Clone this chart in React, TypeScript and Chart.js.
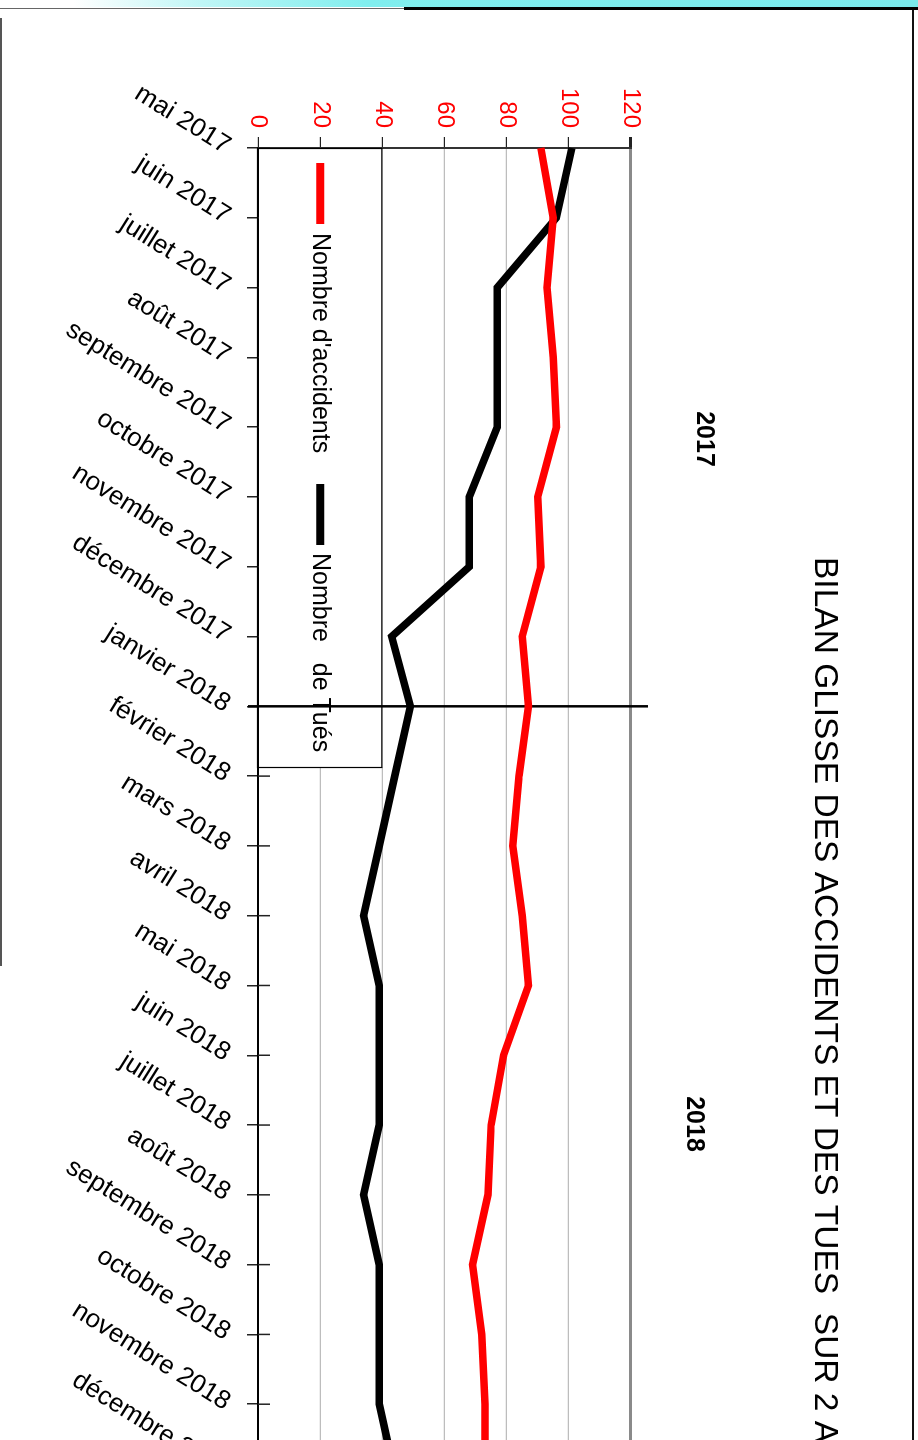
import React, { useEffect, useRef } from 'react';
import { Chart, registerables } from 'chart.js';

Chart.register(...registerables);

const months = [
  'mai 2017', 'juin 2017', 'juillet 2017', 'août 2017', 'septembre 2017', 'octobre 2017',
  'novembre 2017', 'décembre 2017', 'janvier 2018', 'février 2018', 'mars 2018', 'avril 2018',
  'mai 2018', 'juin 2018', 'juillet 2018', 'août 2018', 'septembre 2018', 'octobre 2018',
  'novembre 2018', 'décembre 2018',
];
const accidents = [91, 95, 93, 95, 96, 90, 91, 85, 87, 84, 82, 85, 87, 79, 75, 74, 69, 72, 73, 73];
const tues = [101, 96, 77, 77, 77, 68, 68, 43, 49, 44, 39, 34, 39, 39, 39, 34, 39, 39, 39, 44];
const valueMin = 0;
const valueMax = 120;
const valueStep = 20;
const seriesNames = ["Nombre d'accidents", 'Nombre   de Tués'];
const seriesColors = ['#ff0000', '#000000'];
const yearLabels = ['2017', '2018'];
const titleText = 'BILAN GLISSE DES ACCIDENTS ET DES TUES  SUR 2 ANS';
const splitIndex = 8; // janvier 2018

const FONT = "'Liberation Sans', Arial, Helvetica, sans-serif";
const W = 1540;
const H = 918;

const decorPlugin = {
  id: 'decor',
  beforeDatasetsDraw(chart: any) {
    const { ctx, chartArea: ca, scales } = chart;
    const x = scales.x;
    const y = scales.y;
    ctx.save();
    // inner half of category tick marks
    ctx.strokeStyle = '#222';
    ctx.lineWidth = 1.5;
    months.forEach((_, i) => {
      const px = x.getPixelForValue(i);
      ctx.beginPath();
      ctx.moveTo(px, ca.bottom);
      ctx.lineTo(px, ca.bottom - 12);
      ctx.stroke();
    });
    // legend box
    const boxLeft = ca.left;
    const boxRight = ca.left + 619;
    const boxTop = y.getPixelForValue(40);
    const boxBottom = ca.bottom;
    ctx.fillStyle = '#ffffff';
    ctx.fillRect(boxLeft + 1, boxTop, boxRight - boxLeft - 1, boxBottom - boxTop - 1);
    ctx.strokeStyle = '#000';
    ctx.lineWidth = 1.2;
    ctx.strokeRect(boxLeft + 0.5, boxTop + 0.5, boxRight - boxLeft, boxBottom - boxTop);
    const ly = (boxTop + boxBottom) / 2;
    const items = [
      { seg: 15, text: 85 },
      { seg: 336, text: 405 },
    ];
    items.forEach((it, i) => {
      ctx.strokeStyle = seriesColors[i];
      ctx.lineWidth = 8;
      ctx.beginPath();
      ctx.moveTo(ca.left + it.seg, ly);
      ctx.lineTo(ca.left + it.seg + 61, ly);
      ctx.stroke();
      ctx.fillStyle = '#000';
      ctx.font = `25px ${FONT}`;
      ctx.textAlign = 'left';
      ctx.textBaseline = 'middle';
      ctx.fillText(seriesNames[i], ca.left + it.text, ly);
    });
    // 2017 / 2018 separator
    const sx = x.getPixelForValue(splitIndex);
    ctx.strokeStyle = '#000';
    ctx.lineWidth = 2.5;
    ctx.beginPath();
    ctx.moveTo(sx, ca.bottom + 10);
    ctx.lineTo(sx, ca.top - 17);
    ctx.stroke();
    ctx.restore();
  },
  afterDraw(chart: any) {
    const { ctx, chartArea: ca } = chart;
    ctx.save();
    ctx.fillStyle = '#000';
    ctx.textBaseline = 'middle';
    ctx.textAlign = 'left';
    ctx.font = `33.5px ${FONT}`;
    ctx.fillText(titleText, ca.left + 409, ca.top - 193);
    ctx.textAlign = 'center';
    ctx.font = `bold 25px ${FONT}`;
    ctx.fillText(yearLabels[0], ca.left + 291, ca.top - 73);
    ctx.fillText(yearLabels[1], ca.left + 976, ca.top - 63);
    ctx.restore();
  },
};

export default function App() {
  const ref = useRef<HTMLCanvasElement | null>(null);

  useEffect(() => {
    if (!ref.current) return;
    const chart = new Chart(ref.current, {
      type: 'line',
      data: {
        labels: months,
        datasets: [
          {
            label: seriesNames[0],
            data: accidents,
            borderColor: seriesColors[0],
            backgroundColor: seriesColors[0],
            borderWidth: 7.5,
            pointRadius: 0,
            tension: 0,
            fill: false,
          },
          {
            label: seriesNames[1],
            data: tues,
            borderColor: seriesColors[1],
            backgroundColor: seriesColors[1],
            borderWidth: 7.5,
            pointRadius: 0,
            tension: 0,
            fill: false,
          },
        ],
      },
      options: {
        responsive: false,
        animation: false,
        layout: { padding: { left: 0, right: 66, top: 287, bottom: 0 } },
        plugins: {
          legend: { display: false },
          title: { display: false },
          tooltip: { enabled: false },
        },
        scales: {
          x: {
            type: 'category',
            offset: false,
            afterFit: (s: any) => { s.height = 258; },
            grid: {
              drawOnChartArea: false,
              drawTicks: true,
              tickLength: 11,
              color: '#222',
              lineWidth: 1.5,
            },
            border: { color: '#000', width: 2 },
            ticks: {
              autoSkip: false,
              minRotation: 58,
              maxRotation: 58,
              labelOffset: 0,
              padding: 11,
              color: '#000',
              font: { family: FONT, size: 26 },
            },
          },
          y: {
            min: valueMin,
            max: valueMax,
            afterFit: (s: any) => { s.width = 148; },
            grid: {
              color: (c: any) => (c.tick && c.tick.value === valueMax ? '#8a8a8a' : '#bdbdbd'),
              lineWidth: (c: any) => (c.tick && c.tick.value === valueMax ? 3 : 1.2),
              tickColor: '#222',
              tickLength: 11,
            },
            border: { color: '#333', width: 2 },
            ticks: {
              stepSize: valueStep,
              padding: 9,
              color: '#ff0000',
              font: { family: FONT, size: 24 },
            },
          },
        },
      },
      plugins: [decorPlugin],
    });
    return () => chart.destroy();
  }, []);

  return (
    <div
      style={{
        position: 'fixed',
        left: 0,
        top: 0,
        width: 918,
        height: 1440,
        overflow: 'hidden',
        background: '#fff',
      }}
    >
      <div
        style={{
          position: 'absolute',
          left: 0,
          top: 0,
          width: 918,
          height: 7,
          background: 'linear-gradient(to right, #ffffff 8%, #bff6f6 22%, #80eeee 40%, #7ae9ec 100%)',
        }}
      />
      <div style={{ position: 'absolute', left: 0, top: 8, width: 404, height: 1, background: '#666' }} />
      <div style={{ position: 'absolute', left: 404, top: 7, width: 514, height: 3, background: '#000' }} />
      <div style={{ position: 'absolute', left: 0, top: 18, width: 2, height: 948, background: '#555' }} />
      <div style={{ position: 'absolute', left: 912, top: 10, width: 2, height: 1430, background: '#111' }} />
      <div
        style={{
          position: 'absolute',
          left: 0,
          top: 0,
          width: W,
          height: H,
          transformOrigin: '0 0',
          transform: `translateX(${H}px) rotate(90deg)`,
        }}
      >
        <canvas ref={ref} width={W} height={H} style={{ display: 'block', width: W, height: H }} />
      </div>
    </div>
  );
}
